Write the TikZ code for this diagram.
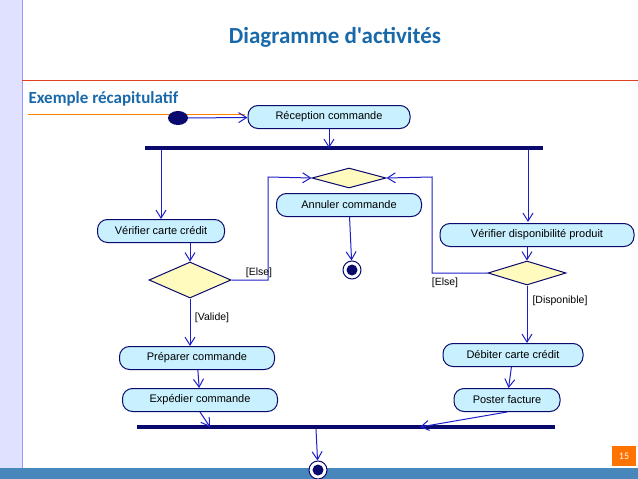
\documentclass[tikz,border=0pt]{standalone}
\usepackage{fontspec}
\setmainfont{Liberation Sans}
\newfontfamily\slidefont{Carlito}
\usetikzlibrary{arrows.meta,shapes.geometric,positioning}
\definecolor{linkblue}{RGB}{30,30,200}
\definecolor{boxfill}{RGB}{200,240,255}
\definecolor{navy}{RGB}{10,10,110}
\definecolor{titleblue}{RGB}{25,105,170}
\definecolor{decision}{RGB}{255,250,190}

\begin{document}
\begin{tikzpicture}
            [x=1pt, y=-1pt,
            action/.style={draw=navy, line width=1pt, fill=boxfill, rounded corners=10pt, minimum height=23pt,
              font=\fontsize{11}{13}\selectfont, inner sep=2pt},
            choice/.style={draw=navy, line width=1pt, fill=decision, diamond, aspect=2.2, inner sep=0pt},
            flow/.style={draw=linkblue, line width=1pt, -{Straight Barb[length=8pt,width=10pt]}},
            guard/.style={font=\fontsize{10.5}{12}\selectfont},
            bar/.style={draw=navy, line width=4pt}]

            \useasboundingbox (0,0) rectangle (638,479);
            % slide frame
            \fill[blue!12] (0,0) rectangle (22,468);
            \draw[blue!40] (22,0) -- (22,468);
            \fill[titleblue!80] (0,468) rectangle (638,479);
            \draw[red!50!brown, line width=1pt] (22,80) -- (638,80);
            \draw[orange] (28,114) -- (245,114);
            \node[text=titleblue, font=\slidefont\bfseries\fontsize{23}{27}\selectfont] (title) at (335,37) {Diagramme d'activités};
            \node[text=titleblue, font=\slidefont\bfseries\fontsize{17}{20}\selectfont, anchor=west] (sub) at (25,99) {Exemple récapitulatif};
            \node[fill=orange!90!red, text=white, font=\slidefont\fontsize{10}{11}\selectfont, minimum width=24pt, minimum height=20pt] (page) at (624,456) {15};

            % nodes
            \node[ellipse, fill=navy, minimum width=20pt, minimum height=14pt, inner sep=0pt] (start) at (178,118) {};
            \node[action, minimum width=162pt] (reception) at (329,117) {Réception commande};
            \coordinate (forkL) at (145,148);
            \coordinate (forkR) at (543,148);
            \node[choice, minimum width=74pt, minimum height=20pt] (merge) at (349,178) {};
            \node[action, minimum width=145pt] (annuler) at (349,205) {Annuler commande};
            \node[action, minimum width=127pt] (verifcarte) at (161,231) {Vérifier carte crédit};
            \node[action, minimum width=194pt] (verifdispo) at (537,235) {Vérifier disponibilité produit};
            \node[choice, minimum width=82pt, minimum height=36pt] (testcarte) at (190,280) {};
            \node[choice, minimum width=78pt, minimum height=24pt] (testdispo) at (527,273) {};
            \node[circle, draw=navy, line width=1pt, minimum size=18pt, inner sep=0pt] (stopA) at (352,270) {};
            \fill[navy] (stopA) circle (5.5pt);
            \node[action, minimum width=155pt] (preparer) at (197,358) {Préparer commande};
            \node[action, minimum width=155pt] (expedier) at (200,400) {Expédier commande};
            \node[action, minimum width=140pt] (debiter) at (513,355) {Débiter carte crédit};
            \node[action, minimum width=106pt] (poster) at (507,400) {Poster facture};
            \coordinate (joinL) at (137,427);
            \coordinate (joinR) at (555,427);
            \node[circle, draw=navy, line width=1pt, fill=white, minimum size=18pt, inner sep=0pt] (stopB) at (318,470) {};
            \fill[navy] (stopB) circle (5.5pt);

            % bars
            \draw[bar] (forkL) -- (forkR);
            \draw[bar] (joinL) -- (joinR);

            % connectors
            \draw[flow] (start) -- (reception);
            \draw[flow] (reception) -- (reception |- forkL);
            \draw[flow] (161,150) -- (verifcarte);
            \draw[flow] (528,150) -- (528,222);
            \draw[flow] (verifcarte.south -| testcarte.north) -- (testcarte);
            \draw[flow] (verifdispo.south -| testdispo.north) -- (testdispo);
            \draw[flow] (testcarte.east) -- (268,280) -- (268,177) -- (merge.west);
            \draw[flow] (testdispo.west) -- (432,273) -- (432,177) -- (merge.east);
            \draw[flow] (annuler) -- (stopA);
            \draw[flow] (testcarte.south) -- (testcarte.south |- preparer.north);
            \draw[flow] (testdispo.south) -- (testdispo.south |- debiter.north);
            \draw[flow] (preparer) -- (expedier);
            \draw[flow] (debiter) -- (poster);
            \draw[flow] (expedier.south) -- (210,427);
            \draw[flow] (poster.south) -- (420,427);
            \draw[flow] (316,429) -- (stopB);

            % guards
            \node[guard] (elseA) at (259,273) {[Else]};
            \node[guard] (valide) at (212,318) {[Valide]};
            \node[guard] (elseB) at (445,283) {[Else]};
            \node[guard] (dispo) at (560,301) {[Disponible]};
        \end{tikzpicture}
\end{document}
